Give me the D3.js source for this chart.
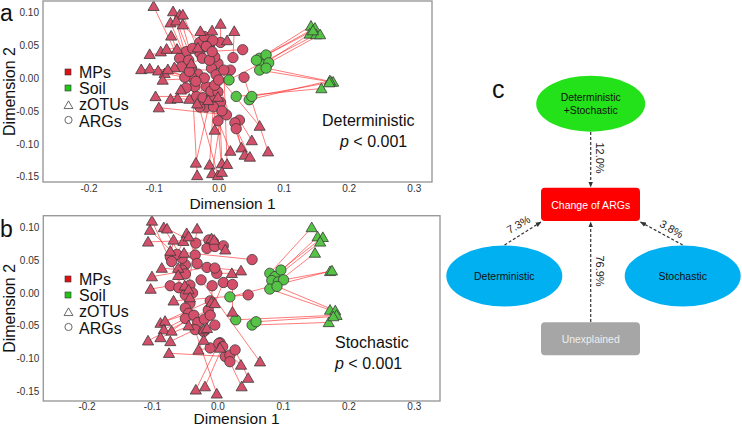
<!DOCTYPE html>
<html><head><meta charset="utf-8">
<script src="https://cdn.jsdelivr.net/npm/d3@7"></script>
<style>body{margin:0;background:#fff}svg{display:block;font-family:"Liberation Sans",Arial,sans-serif}</style>
</head><body><svg id="c" width="742" height="427"></svg>
<script>
// ---------- DATA ----------
const xTicks = [-0.2, -0.1, 0.0, 0.1, 0.2, 0.3];
const yTicks = [-0.15, -0.10, -0.05, 0.00, 0.05, 0.10];
const legendLabels = ["MPs", "Soil", "zOTUs", "ARGs"];

// Panel a (Deterministic): zOTU positions and paired ARG positions
const aMPsOTU = [[-0.100,0.109],[-0.070,0.101],[-0.060,0.096],[-0.055,0.096],[-0.074,0.084],[-0.065,0.087],[-0.055,0.081],[0.003,0.082],[-0.028,0.071],[-0.010,0.072],[0.024,0.071],[-0.073,0.064],[0.013,0.057],[-0.106,0.036],[-0.089,0.040],[-0.080,0.044],[-0.064,0.044],[-0.032,0.046],[-0.119,0.013],[-0.106,0.014],[-0.093,0.011],[-0.083,0.007],[-0.068,0.016],[-0.078,0.013],[-0.086,-0.003],[-0.042,0.022],[-0.058,-0.018],[-0.097,-0.028],[-0.074,-0.032],[-0.063,-0.031],[-0.045,-0.032],[-0.033,-0.039],[-0.092,-0.045],[-0.001,-0.029],[-0.016,-0.034],[-0.006,-0.079],[0.063,-0.073],[0.051,-0.095],[0.018,-0.111],[0.035,-0.106],[0.040,-0.117],[0.048,-0.120],[0.076,-0.112],[-0.035,-0.129],[-0.014,-0.132],[0.005,-0.130],[0.013,-0.131],[-0.033,-0.148],[-0.010,-0.145],[-0.001,-0.148],[0.005,-0.143]];
const aMPsARG = [[-0.034,-0.028],[-0.037,-0.013],[-0.019,-0.044],[-0.029,0.038],[-0.024,-0.030],[-0.032,0.006],[-0.029,0.054],[0.003,0.054],[-0.022,0.063],[-0.014,0.050],[0.022,0.031],[-0.029,-0.044],[-0.009,0.057],[0.037,0.043],[-0.050,0.040],[-0.019,0.048],[-0.060,0.030],[-0.040,0.045],[0.018,0.012],[-0.042,0.002],[-0.057,0.017],[-0.052,0.001],[-0.046,0.027],[-0.019,-0.013],[-0.022,0.000],[-0.025,0.030],[-0.050,-0.015],[-0.011,-0.028],[-0.035,-0.005],[0.003,-0.037],[-0.012,-0.020],[-0.008,-0.044],[0.012,-0.056],[-0.001,-0.021],[-0.001,0.022],[-0.006,0.032],[-0.011,0.015],[0.032,-0.064],[-0.001,-0.065],[0.025,-0.068],[-0.014,0.027],[0.027,-0.077],[0.039,0.001],[-0.004,0.005],[-0.006,-0.011],[0.000,-0.003],[0.008,0.012],[-0.042,0.015],[0.005,-0.050],[-0.045,0.010],[-0.010,0.040]];
const aSoilOTU = [[0.142,0.079],[0.148,0.076],[0.140,0.067],[0.150,0.066],[0.156,0.066],[0.145,0.072],[0.173,-0.006],[0.176,-0.006],[0.171,-0.004],[0.158,-0.016],[0.170,-0.007]];
const aSoilARG = [[0.063,0.030],[0.073,0.035],[0.068,0.020],[0.016,-0.003],[0.077,0.023],[0.058,0.027],[0.063,0.012],[0.073,0.015],[0.047,-0.033],[0.027,-0.028],[0.051,-0.028]];

// Panel b (Stochastic)
const bMPsOTU = [[-0.100,0.110],[-0.103,0.096],[-0.082,0.100],[-0.077,0.098],[-0.047,0.091],[-0.031,0.098],[-0.106,0.078],[-0.067,0.081],[-0.052,0.079],[-0.044,0.086],[-0.009,0.083],[-0.005,0.081],[0.012,0.066],[-0.072,0.064],[-0.051,0.061],[-0.085,0.038],[-0.100,0.025],[-0.060,0.038],[-0.060,0.027],[0.022,0.030],[0.036,0.034],[-0.102,0.006],[-0.050,0.011],[-0.044,0.005],[-0.067,-0.012],[-0.042,-0.007],[-0.009,-0.014],[-0.004,-0.016],[0.023,-0.029],[-0.087,-0.046],[-0.080,-0.043],[-0.082,-0.056],[-0.070,-0.058],[-0.106,-0.073],[-0.087,-0.068],[-0.072,-0.074],[-0.044,-0.050],[-0.021,-0.056],[-0.016,-0.054],[-0.021,-0.072],[-0.029,-0.087],[-0.074,-0.092],[0.004,-0.084],[0.036,-0.110],[0.065,-0.105],[0.047,-0.130],[0.037,-0.143],[-0.033,-0.148],[-0.019,-0.143],[-0.001,-0.154]];
const bMPsARG = [[-0.042,-0.016],[-0.049,0.043],[-0.054,0.053],[-0.033,0.076],[-0.034,0.058],[-0.049,-0.023],[-0.013,0.081],[-0.072,0.055],[-0.062,0.059],[-0.016,0.068],[-0.006,0.078],[-0.004,0.071],[0.009,0.072],[0.053,0.051],[-0.031,0.045],[-0.054,0.035],[-0.016,0.039],[-0.049,0.029],[-0.042,0.012],[-0.001,0.030],[-0.004,0.038],[-0.072,0.011],[-0.059,0.008],[-0.038,0.000],[0.047,-0.003],[-0.049,-0.003],[-0.008,0.011],[0.009,0.016],[0.023,0.013],[-0.044,-0.031],[-0.011,-0.012],[-0.049,-0.039],[-0.036,-0.034],[-0.014,-0.026],[-0.030,-0.045],[-0.034,-0.056],[-0.020,-0.040],[-0.011,-0.034],[-0.004,-0.049],[-0.021,-0.059],[-0.011,-0.084],[0.012,-0.097],[0.004,-0.076],[0.019,-0.095],[-0.025,0.020],[0.027,-0.087],[0.019,-0.105],[0.002,-0.077],[0.008,-0.082],[-0.070,0.048]];
const bSoilOTU = [[0.144,0.100],[0.153,0.086],[0.161,0.085],[0.157,0.078],[0.149,0.061],[0.172,0.033],[0.175,0.034],[0.172,-0.026],[0.180,-0.027],[0.182,-0.034],[0.170,-0.045],[0.177,-0.036]];
const bSoilARG = [[0.080,0.030],[0.088,0.025],[0.097,0.035],[0.083,0.019],[0.093,0.017],[0.101,0.020],[0.019,-0.006],[0.080,0.006],[0.091,0.010],[0.028,-0.041],[0.053,-0.049],[0.059,-0.044]];

// Panel c (variance partitioning)
const vpNodes = ["Deterministic\n+Stochastic", "Deterministic", "Stochastic", "Unexplained"];
const vpValues = ["12.0%", "7.3%", "3.8%", "76.9%"];
const vpTarget = "Change of ARGs";

// ---------- DRAW ----------
const svg = d3.select("#c");
const COL = {MPs: "#d4506a", Soil: "#55c446"};
const tri = d3.symbol().type(d3.symbolTriangle).size(54);
const circ = d3.symbol().type(d3.symbolCircle).size(84);

function panel(cfg) {
  const x = d3.scaleLinear().domain(cfg.xd).range([cfg.l, cfg.r]);
  const y = d3.scaleLinear().domain(cfg.yd).range([cfg.b, cfg.t]);
  const g = svg.append("g");
  const xa = g.append("g").attr("transform", `translate(0,${cfg.b})`)
    .call(d3.axisBottom(x).tickValues(xTicks).tickSize(0).tickPadding(cfg.tp).tickFormat(d => d.toFixed(1)));
  const ya = g.append("g").attr("transform", `translate(${cfg.l},0)`)
    .call(d3.axisLeft(y).tickValues(yTicks).tickSize(0).tickPadding(4).tickFormat(d => d.toFixed(2)));
  [xa, ya].forEach(a => { a.select(".domain").remove(); a.selectAll("text").attr("font-size", 10).attr("fill", "#333").attr("font-family", "Liberation Sans, Arial, sans-serif"); });
  const pairs = [];
  cfg.mpO.forEach((d, i) => pairs.push({o: d, a: cfg.mpA[i], grp: "MPs"}));
  cfg.soO.forEach((d, i) => pairs.push({o: d, a: cfg.soA[i], grp: "Soil"}));
  g.append("g").selectAll("line").data(pairs).join("line")
    .attr("x1", d => x(d.o[0])).attr("y1", d => y(d.o[1]))
    .attr("x2", d => x(d.a[0])).attr("y2", d => y(d.a[1]))
    .attr("stroke", "#ff2020").attr("stroke-width", 0.7).attr("stroke-opacity", 0.85);
  g.append("g").selectAll("path").data(pairs).join("path")
    .attr("transform", d => `translate(${x(d.a[0])},${y(d.a[1])})`).attr("d", circ)
    .attr("fill", d => COL[d.grp]).attr("stroke", "#3a3a3a").attr("stroke-width", 0.8);
  g.append("g").selectAll("path").data(pairs).join("path")
    .attr("transform", d => `translate(${x(d.o[0])},${y(d.o[1]) + 1})`).attr("d", tri)
    .attr("fill", d => COL[d.grp]).attr("stroke", "#3a3a3a").attr("stroke-width", 0.8);
  g.append("rect").attr("x", cfg.l).attr("y", cfg.t).attr("width", cfg.r - cfg.l).attr("height", cfg.b - cfg.t)
    .attr("fill", "none").attr("stroke", "#9a9a9a").attr("stroke-width", 1.4);
  g.append("text").attr("x", (cfg.l + cfg.r) / 2 - 5).attr("y", cfg.xt).attr("text-anchor", "middle")
    .attr("font-size", 15.5).attr("fill", "#111").text("Dimension 1");
  g.append("text").attr("transform", `translate(${cfg.yx},${(cfg.t + cfg.b) / 2}) rotate(-90)`).attr("text-anchor", "middle")
    .attr("font-size", 16).attr("fill", "#111").text("Dimension 2");
  g.append("text").attr("x", 0).attr("y", cfg.letterY).attr("font-size", 23).attr("fill", "#111").text(cfg.letter);
  const lg = g.append("g");
  const ly = cfg.legY;
  lg.append("rect").attr("x", 65).attr("y", ly - 3).attr("width", 6).attr("height", 6).attr("fill", "#e01010").attr("stroke", "#333").attr("stroke-width", 0.6);
  lg.append("rect").attr("x", 65).attr("y", ly + 13).attr("width", 6).attr("height", 6).attr("fill", "#22c41a").attr("stroke", "#333").attr("stroke-width", 0.6);
  lg.append("path").attr("transform", `translate(68.5,${ly + 34})`).attr("d", d3.symbol().type(d3.symbolTriangle).size(34)).attr("fill", "none").attr("stroke", "#444").attr("stroke-width", 0.8);
  lg.append("circle").attr("cx", 68.5).attr("cy", ly + 48).attr("r", 3.6).attr("fill", "none").attr("stroke", "#444").attr("stroke-width", 0.8);
  legendLabels.forEach((t, i) => lg.append("text").attr("x", 79).attr("y", ly + 6 + i * 16.2).attr("font-size", 16).attr("fill", "#111").text(t));
  g.append("text").attr("x", cfg.annX).attr("y", cfg.annY).attr("font-size", 16).attr("fill", "#111").text(cfg.ann);
  const p = g.append("text").attr("x", cfg.annX + cfg.pdx).attr("y", cfg.annY + 21).attr("font-size", 16).attr("fill", "#111");
  p.append("tspan").attr("font-style", "italic").text("p");
  p.append("tspan").text(" < 0.001");
}

panel({xd: [-0.27, 0.328], yd: [-0.158, 0.117], l: 43, r: 432, t: 1, b: 182, tp: 3,
  mpO: aMPsOTU, mpA: aMPsARG, soO: aSoilOTU, soA: aSoilARG,
  xt: 208.5, yx: 14.5, letter: "a", letterY: 20.5, legY: 72, ann: "Deterministic", annX: 322, annY: 126, pdx: 18});
panel({xd: [-0.266, 0.34], yd: [-0.165, 0.118], l: 43.3, r: 440, t: 215.7, b: 401, tp: 2,
  mpO: bMPsOTU, mpA: bMPsARG, soO: bSoilOTU, soA: bSoilARG,
  xt: 424, yx: 14.5, letter: "b", letterY: 237, legY: 279, ann: "Stochastic", annX: 335, annY: 348, pdx: 0});

// ---------- Panel c ----------
const gc = svg.append("g");
gc.append("text").attr("x", 492).attr("y", 98).attr("font-size", 25).attr("fill", "#111").text("c");
const defs = svg.append("defs");
defs.append("marker").attr("id", "ah").attr("viewBox", "0 0 10 10").attr("refX", 9).attr("refY", 5)
  .attr("markerWidth", 5).attr("markerHeight", 5).attr("orient", "auto")
  .append("path").attr("d", "M0,1 L10,5 L0,9 Z").attr("fill", "#333");
const arrows = [
  {x1: 590.7, y1: 132, x2: 590.7, y2: 187},
  {x1: 504.5, y1: 245, x2: 541, y2: 222},
  {x1: 682.7, y1: 245, x2: 640.5, y2: 222},
  {x1: 590.7, y1: 322, x2: 590.7, y2: 222}
];
gc.selectAll("line.ar").data(arrows).join("line").attr("class", "ar")
  .attr("x1", d => d.x1).attr("y1", d => d.y1).attr("x2", d => d.x2).attr("y2", d => d.y2)
  .attr("stroke", "#333").attr("stroke-width", 1.2).attr("stroke-dasharray", "3,2").attr("marker-end", "url(#ah)");
gc.append("ellipse").attr("cx", 590.7).attr("cy", 103.7).attr("rx", 54.5).attr("ry", 28).attr("fill", "#24e21a");
gc.append("ellipse").attr("cx", 504.3).attr("cy", 276).attr("rx", 58).attr("ry", 30.5).attr("fill", "#00b0f0");
gc.append("ellipse").attr("cx", 682.7).attr("cy", 276).attr("rx", 58).attr("ry", 30.5).attr("fill", "#00b0f0");
gc.append("rect").attr("x", 541).attr("y", 187.7).attr("width", 99).attr("height", 33.3).attr("rx", 4).attr("fill", "#ff0000");
gc.append("rect").attr("x", 541).attr("y", 322.3).attr("width", 99).attr("height", 33).attr("rx", 4).attr("fill", "#a6a6a6");
const nodePos = [[590.7, 103.7], [504.3, 276], [682.7, 276], [590.7, 338.8]];
const nodeLen = [[60, 54], [60.5], [48.5], [58]];
vpNodes.forEach((t, i) => {
  const lines = t.split("\n");
  lines.forEach((ln, j) => gc.append("text").attr("x", nodePos[i][0])
    .attr("y", nodePos[i][1] + 4 + (j - (lines.length - 1) / 2) * 13)
    .attr("text-anchor", "middle").attr("font-size", 11.5)
    .attr("textLength", nodeLen[i][j]).attr("lengthAdjust", "spacingAndGlyphs")
    .attr("fill", i === 3 ? "#eeeeee" : "#111").text(ln));
});
gc.append("text").attr("x", 590.7).attr("y", 208.5).attr("text-anchor", "middle").attr("font-size", 11.5)
  .attr("textLength", 79).attr("lengthAdjust", "spacingAndGlyphs").attr("fill", "#fff").text(vpTarget);
const labPos = [[600, 158, 90], [518.5, 224.5, -30], [671.5, 229, 30], [600, 271, 90]];
vpValues.forEach((t, i) => {
  gc.append("text").attr("transform", `translate(${labPos[i][0]},${labPos[i][1]}) rotate(${labPos[i][2]})`)
    .attr("text-anchor", "middle").attr("dy", "0.35em").attr("font-size", 11).attr("fill", "#222").text(t);
});
</script></body></html>
